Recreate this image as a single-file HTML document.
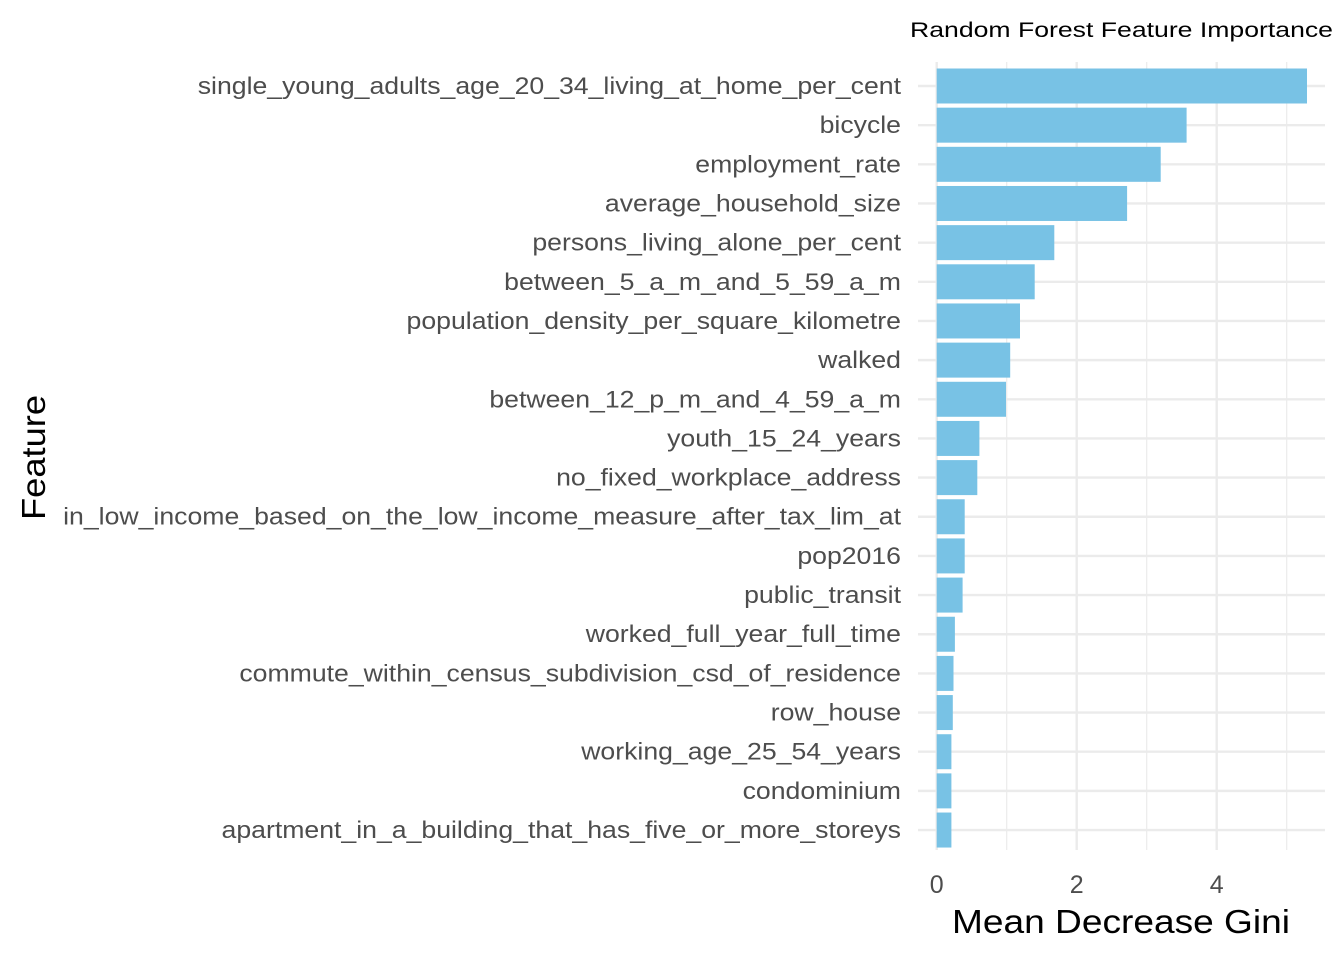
<!DOCTYPE html>
<html><head><meta charset="utf-8"><style>
body{margin:0;background:#fff;font-family:"Liberation Sans",sans-serif}
</style></head><body>
<svg id="chart" width="1344" height="960" xmlns="http://www.w3.org/2000/svg" font-family="Liberation Sans, sans-serif">
<text x="910" y="37" font-size="21" textLength="423" lengthAdjust="spacingAndGlyphs" fill="#000">Random Forest Feature Importance</text>
<g id="grid"></g><g id="bars"></g><g id="ylabels" transform="translate(901,0) scale(1.11,1) translate(-901,0)"></g><g id="xlabels"></g>
<text x="952" y="933" font-size="33" textLength="338" lengthAdjust="spacingAndGlyphs" fill="#000">Mean Decrease Gini</text>
<text transform="translate(45,520) rotate(-90)" font-size="33" textLength="125" lengthAdjust="spacingAndGlyphs" fill="#000">Feature</text>
</svg>
<script>
const features=["single_young_adults_age_20_34_living_at_home_per_cent","bicycle","employment_rate","average_household_size","persons_living_alone_per_cent","between_5_a_m_and_5_59_a_m","population_density_per_square_kilometre","walked","between_12_p_m_and_4_59_a_m","youth_15_24_years","no_fixed_workplace_address","in_low_income_based_on_the_low_income_measure_after_tax_lim_at","pop2016","public_transit","worked_full_year_full_time","commute_within_census_subdivision_csd_of_residence","row_house","working_age_25_54_years","condominium","apartment_in_a_building_that_has_five_or_more_storeys"];
const values=[5.29,3.57,3.20,2.72,1.68,1.40,1.19,1.05,0.99,0.61,0.58,0.40,0.40,0.37,0.26,0.24,0.23,0.21,0.21,0.21];
const xTicks=[0,2,4];
const xMinor=[1,3,5];
const NS="http://www.w3.org/2000/svg";
const x0=936.7,pxPer=70,top0=86,step=39.16,bh=35,pL=918,pR=1325,pT=62,pB=850;
const X=v=>x0+v*pxPer, Y=i=>top0+i*step;
function mk(tag,attrs,parent){const e=document.createElementNS(NS,tag);for(const k in attrs)e.setAttribute(k,attrs[k]);document.getElementById(parent).appendChild(e);return e;}
xMinor.forEach(v=>{const l=mk('line',{x1:X(v),x2:X(v),y1:pT,y2:pB,stroke:'#ebebeb','stroke-width':1.2},'grid');

});
xTicks.forEach(v=>{const l=mk('line',{x1:X(v),x2:X(v),y1:pT,y2:pB,stroke:'#ebebeb','stroke-width':2.4},'grid');


const t=mk('text',{x:X(v),y:893,'text-anchor':'middle','font-size':25,fill:'#4d4d4d'},'xlabels');t.textContent=v;

});
features.forEach((f,i)=>{const l=mk('line',{x1:pL,x2:pR,y1:Y(i),y2:Y(i),stroke:'#ebebeb','stroke-width':2.4},'grid');


const r=mk('rect',{x:X(0),y:Y(i)-bh/2,width:X(values[i])-X(0),height:bh,fill:'#78C2E5'},'bars');


const t=mk('text',{x:901,y:Y(i)+8,'text-anchor':'end','font-size':24,fill:'#4d4d4d'},'ylabels');t.textContent=f;

});
</script>
</body></html>
